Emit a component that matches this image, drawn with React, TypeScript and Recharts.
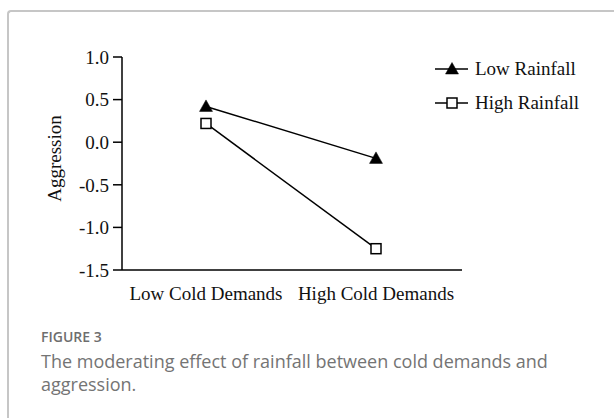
import React from 'react';
import { LineChart, Line, XAxis, YAxis } from 'recharts';

const categories = ['Low Cold Demands', 'High Cold Demands'];
const lowRainfall = [0.42, -0.19];
const highRainfall = [0.22, -1.25];
const yTicks = [-1.5, -1.0, -0.5, 0.0, 0.5, 1.0];
const seriesNames = ['Low Rainfall', 'High Rainfall'];

const data = categories.map((c, i) => ({
  name: c,
  low: lowRainfall[i],
  high: highRainfall[i],
}));

const SERIF = '"Liberation Serif", "Times New Roman", serif';

const Triangle = (props: any) => {
  const { cx, cy } = props;
  if (cx == null || cy == null) return <g key={props.key} />;
  return (
    <path
      key={props.key}
      d={`M${cx},${cy - 6.5} L${cx + 6.5},${cy + 5} L${cx - 6.5},${cy + 5} Z`}
      fill="#000"
      stroke="#000"
      strokeWidth={0.5}
    />
  );
};

const Square = (props: any) => {
  const { cx, cy } = props;
  if (cx == null || cy == null) return <g key={props.key} />;
  return (
    <rect
      key={props.key}
      x={cx - 5}
      y={cy - 5}
      width={10}
      height={10}
      fill="#fff"
      stroke="#000"
      strokeWidth={1.5}
    />
  );
};

const LegendBox = () => (
  <div
    style={{
      position: 'absolute',
      left: 435,
      top: 52,
      fontFamily: SERIF,
      fontSize: 19,
      color: '#111',
    }}
  >
    {seriesNames.map((n, i) => (
      <div key={n} style={{ display: 'flex', alignItems: 'center', height: 34 }}>
        <svg width={34} height={16} style={{ overflow: 'visible' }}>
          <line x1={0} x2={33} y1={8} y2={8} stroke="#000" strokeWidth={1.5} />
          {i === 0 ? <Triangle cx={17} cy={8} key="t" /> : <Square cx={17} cy={8} key="s" />}
        </svg>
        <span style={{ marginLeft: 6, lineHeight: '34px' }}>{n}</span>
      </div>
    ))}
  </div>
);

const YLabel = (props: any) => {
  const vb = props.viewBox || {};
  const x = vb.x - 1;
  const y = vb.y + vb.height / 2 - 5;
  return (
    <text
      x={x}
      y={y}
      transform={`rotate(-90, ${x}, ${y})`}
      textAnchor="middle"
      fontFamily={SERIF}
      fontSize={19}
      fill="#111"
    >
      Aggression
    </text>
  );
};

export default function App() {
  return (
    <div
      style={{
        position: 'absolute',
        left: 0,
        top: 0,
        width: 614,
        height: 418,
        background: '#fff',
        overflow: 'hidden',
      }}
    >
      <div
        style={{
          position: 'absolute',
          left: 7,
          top: 10,
          width: 640,
          height: 440,
          borderTop: '2px solid #c6c6c6',
          borderLeft: '2px solid #c6c6c6',
          borderTopLeftRadius: 4,
        }}
      />
      <div style={{ position: 'absolute', left: 0, top: 0 }}>
        <LineChart
          width={614}
          height={418}
          data={data}
          margin={{ top: 57, right: 152, bottom: 118, left: 62 }}
        >
          <XAxis
            dataKey="name"
            padding={{ left: 84, right: 86 }}
            axisLine={{ stroke: '#000', strokeWidth: 1.5 }}
            tickLine={false}
            tickSize={0}
            tickMargin={17}
            height={30}
            interval={0}
            tick={{ fontFamily: SERIF, fontSize: 19, fill: '#111' }}
          />
          <YAxis
            type="number"
            domain={[-1.5, 1.0]}
            ticks={yTicks}
            width={60}
            axisLine={{ stroke: '#000', strokeWidth: 1.5 }}
            tickLine={{ stroke: '#000', strokeWidth: 1.5 }}
            tickSize={9}
            tickMargin={4}
            tickFormatter={(v: number) => v.toFixed(1)}
            tick={{ fontFamily: SERIF, fontSize: 19, fill: '#111' }}
            label={<YLabel />}
          />
          <Line
            dataKey="low"
            name={seriesNames[0]}
            stroke="#000"
            strokeWidth={1.5}
            dot={Triangle}
            activeDot={false}
            isAnimationActive={false}
          />
          <Line
            dataKey="high"
            name={seriesNames[1]}
            stroke="#000"
            strokeWidth={1.5}
            dot={Square}
            activeDot={false}
            isAnimationActive={false}
          />
        </LineChart>
      </div>
      <LegendBox />
      <div
        style={{
          position: 'absolute',
          left: 41,
          top: 327,
          fontFamily: '"Open Sans", sans-serif',
          fontSize: 14,
          fontWeight: 600,
          lineHeight: '20px',
          color: '#6e6e6e',
        }}
      >
        FIGURE 3
      </div>
      <div
        style={{
          position: 'absolute',
          left: 41,
          top: 350,
          fontFamily: '"Open Sans", sans-serif',
          fontSize: 18,
          lineHeight: '23px',
          color: '#747474',
          whiteSpace: 'nowrap',
        }}
      >
        The moderating effect of rainfall between cold demands and
        <br />
        aggression.
      </div>
    </div>
  );
}
